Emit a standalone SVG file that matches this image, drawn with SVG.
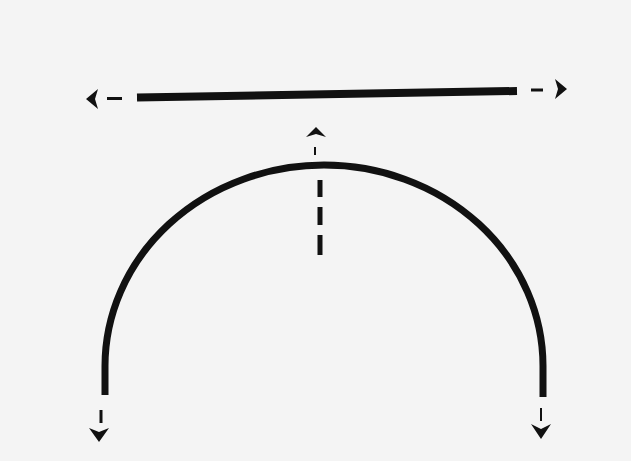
<svg xmlns="http://www.w3.org/2000/svg" width="631" height="461" viewBox="0 0 631 461">
<style>
.solid{fill:none;stroke:#111;stroke-width:7;stroke-linecap:butt}
.dash{fill:none;stroke:#111;stroke-width:3;stroke-linecap:butt}
.head{fill:#111}
</style>
<rect width="631" height="461" fill="#f4f4f4"/>
<g id="bar">
<path class="solid" d="M137 97.5 L517 91" style="stroke-width:8"/>
</g>
<g id="arc">
<path class="solid" d="M105 395 L105 366 A219 201 0 0 1 543 366 L543 397"/>
</g>
<g id="connectors">
<path class="dash" d="M107 98.5 H122"/>
<path class="head" d="M86 99 L98 89 L95 99 L98 109 Z"/>
<path class="dash" d="M531 90 H543"/>
<path class="head" d="M567 89 L555 79 L558 89 L555 99 Z"/>
<path class="dash" d="M320 180 V197 M320 207 V225 M320 235 V255" style="stroke-width:5"/>
<path class="dash" d="M315 147 V155" style="stroke-width:2"/>
<path class="head" d="M316 127 L326 137 L316 134 L306 137 Z"/>
<path class="dash" d="M101 410 V423"/>
<path class="head" d="M99 442 L89 428 L99 432 L109 428 Z"/>
<path class="dash" d="M541 408 V421" style="stroke-width:2"/>
<path class="head" d="M541 439 L531 424 L541 429 L551 424 Z"/>
</g>
</svg>
